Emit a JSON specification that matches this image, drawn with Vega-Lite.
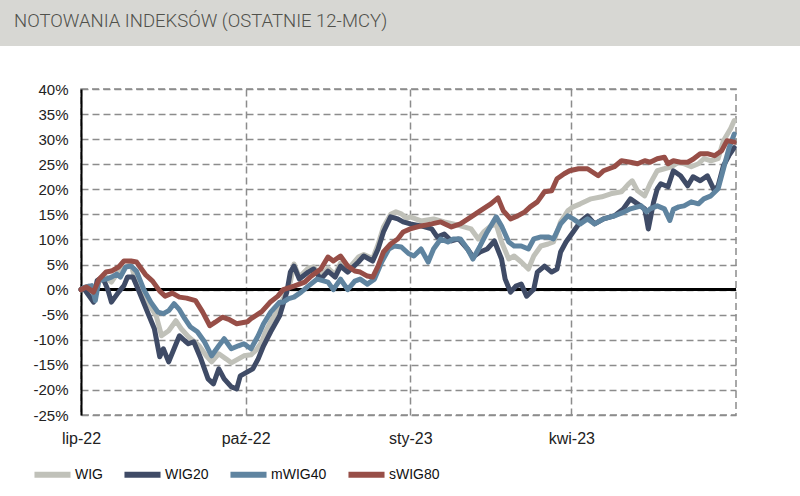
{
  "$schema": "https://vega.github.io/schema/vega-lite/v6.json",
  "padding": 0,
  "background": "white",
  "spacing": 35,
  "resolve": {"scale": {"color": "independent"}},
  "config": {
    "view": {"stroke": null},
    "axis": {"gridColor": "#8c8c8c", "gridDash": [7, 4], "gridWidth": 1.5, "ticks": false, "domain": false, "labelColor": "#222222", "labelFont": "Liberation Sans", "title": null}
  },
  "vconcat": [
    {
      "width": 800,
      "height": 46,
      "view": {"fill": "#d7d7d3", "stroke": null},
      "data": {"values": [{"t": "NOTOWANIA INDEKSÓW (OSTATNIE 12-MCY)"}]},
      "layer": [
        {"mark": {"type": "rect", "color": "#d7d7d3"}, "encoding": {}},
        {"mark": {"type": "text", "align": "left", "baseline": "alphabetic", "font": "Roboto", "fontSize": 18.5, "fontWeight": 300, "color": "#50514b"},
         "encoding": {"text": {"field": "t"}, "x": {"value": 14}, "y": {"value": 27}}}
      ]
    },
    {
      "spacing": 0,
      "resolve": {"scale": {"color": "independent"}},
      "hconcat": [
        {
          "width": 1,
          "height": 1,
          "data": {"values": [{"k": 1}]},
          "mark": {"type": "rect", "opacity": 0},
          "encoding": {}
        },
        {
          "width": 655,
          "height": 326,
          "view": {"stroke": "#8c8c8c", "strokeDash": [7, 4], "strokeWidth": 1.5},
          "data": {"values": [
            {"s":"WIG","d":"2022-07-01","v":0},{"s":"WIG","d":"2022-07-04","v":0.5},{"s":"WIG","d":"2022-07-05","v":0.7},{"s":"WIG","d":"2022-07-08","v":-1.5},{"s":"WIG","d":"2022-07-10","v":1.5},{"s":"WIG","d":"2022-07-15","v":2.5},{"s":"WIG","d":"2022-07-18","v":1.5},{"s":"WIG","d":"2022-07-22","v":3.7},{"s":"WIG","d":"2022-07-26","v":4.5},{"s":"WIG","d":"2022-07-29","v":5.0},{"s":"WIG","d":"2022-08-01","v":1.1},{"s":"WIG","d":"2022-08-06","v":-1.9},{"s":"WIG","d":"2022-08-12","v":-5.2},{"s":"WIG","d":"2022-08-15","v":-9.2},{"s":"WIG","d":"2022-08-19","v":-8.2},{"s":"WIG","d":"2022-08-23","v":-6.2},{"s":"WIG","d":"2022-08-26","v":-7.8},{"s":"WIG","d":"2022-08-30","v":-9.4},{"s":"WIG","d":"2022-09-05","v":-11.2},{"s":"WIG","d":"2022-09-09","v":-13.2},{"s":"WIG","d":"2022-09-12","v":-14.4},{"s":"WIG","d":"2022-09-16","v":-12.8},{"s":"WIG","d":"2022-09-20","v":-13.8},{"s":"WIG","d":"2022-09-23","v":-14.6},{"s":"WIG","d":"2022-09-27","v":-13.8},{"s":"WIG","d":"2022-09-30","v":-13.2},{"s":"WIG","d":"2022-10-04","v":-13.0},{"s":"WIG","d":"2022-10-07","v":-12.0},{"s":"WIG","d":"2022-10-10","v":-10.4},{"s":"WIG","d":"2022-10-12","v":-8.5},{"s":"WIG","d":"2022-10-15","v":-6.4},{"s":"WIG","d":"2022-10-19","v":-4.0},{"s":"WIG","d":"2022-10-22","v":-1.8},{"s":"WIG","d":"2022-10-26","v":1.5},{"s":"WIG","d":"2022-10-28","v":5.1},{"s":"WIG","d":"2022-10-31","v":2.5},{"s":"WIG","d":"2022-11-05","v":4.3},{"s":"WIG","d":"2022-11-08","v":4.5},{"s":"WIG","d":"2022-11-12","v":2.7},{"s":"WIG","d":"2022-11-16","v":4.3},{"s":"WIG","d":"2022-11-20","v":3.0},{"s":"WIG","d":"2022-11-23","v":5.3},{"s":"WIG","d":"2022-11-27","v":4.0},{"s":"WIG","d":"2022-12-03","v":6.5},{"s":"WIG","d":"2022-12-06","v":7.0},{"s":"WIG","d":"2022-12-11","v":6.2},{"s":"WIG","d":"2022-12-14","v":9.0},{"s":"WIG","d":"2022-12-17","v":12.5},{"s":"WIG","d":"2022-12-21","v":15.0},{"s":"WIG","d":"2022-12-24","v":15.5},{"s":"WIG","d":"2022-12-27","v":15.1},{"s":"WIG","d":"2022-12-30","v":14.2},{"s":"WIG","d":"2023-01-01","v":14.5},{"s":"WIG","d":"2023-01-07","v":13.7},{"s":"WIG","d":"2023-01-14","v":14.1},{"s":"WIG","d":"2023-01-20","v":13.5},{"s":"WIG","d":"2023-01-25","v":13.1},{"s":"WIG","d":"2023-01-31","v":12.5},{"s":"WIG","d":"2023-02-04","v":12.1},{"s":"WIG","d":"2023-02-08","v":10.1},{"s":"WIG","d":"2023-02-11","v":11.5},{"s":"WIG","d":"2023-02-15","v":12.7},{"s":"WIG","d":"2023-02-18","v":13.0},{"s":"WIG","d":"2023-02-21","v":9.5},{"s":"WIG","d":"2023-02-25","v":6.1},{"s":"WIG","d":"2023-02-28","v":6.7},{"s":"WIG","d":"2023-03-04","v":5.5},{"s":"WIG","d":"2023-03-08","v":4.1},{"s":"WIG","d":"2023-03-11","v":6.7},{"s":"WIG","d":"2023-03-15","v":8.7},{"s":"WIG","d":"2023-03-19","v":9.1},{"s":"WIG","d":"2023-03-22","v":9.5},{"s":"WIG","d":"2023-03-26","v":13.5},{"s":"WIG","d":"2023-03-30","v":15.7},{"s":"WIG","d":"2023-04-02","v":16.5},{"s":"WIG","d":"2023-04-06","v":17.1},{"s":"WIG","d":"2023-04-12","v":18.1},{"s":"WIG","d":"2023-04-18","v":18.5},{"s":"WIG","d":"2023-04-23","v":19.1},{"s":"WIG","d":"2023-04-29","v":19.5},{"s":"WIG","d":"2023-05-03","v":21.1},{"s":"WIG","d":"2023-05-05","v":21.7},{"s":"WIG","d":"2023-05-08","v":19.7},{"s":"WIG","d":"2023-05-12","v":18.7},{"s":"WIG","d":"2023-05-15","v":21.1},{"s":"WIG","d":"2023-05-19","v":23.7},{"s":"WIG","d":"2023-05-23","v":24.1},{"s":"WIG","d":"2023-05-27","v":24.5},{"s":"WIG","d":"2023-05-31","v":25.4},{"s":"WIG","d":"2023-06-03","v":25.1},{"s":"WIG","d":"2023-06-07","v":24.5},{"s":"WIG","d":"2023-06-11","v":25.1},{"s":"WIG","d":"2023-06-14","v":26.1},{"s":"WIG","d":"2023-06-18","v":25.7},{"s":"WIG","d":"2023-06-22","v":26.1},{"s":"WIG","d":"2023-06-25","v":29.7},{"s":"WIG","d":"2023-06-29","v":32.1},{"s":"WIG","d":"2023-07-01","v":33.7},
            {"s":"WIG20","d":"2022-07-01","v":0},{"s":"WIG20","d":"2022-07-03","v":0},{"s":"WIG20","d":"2022-07-05","v":-1.0},{"s":"WIG20","d":"2022-07-08","v":-2.5},{"s":"WIG20","d":"2022-07-10","v":1.8},{"s":"WIG20","d":"2022-07-13","v":2.5},{"s":"WIG20","d":"2022-07-16","v":0},{"s":"WIG20","d":"2022-07-18","v":-2.5},{"s":"WIG20","d":"2022-07-22","v":-0.5},{"s":"WIG20","d":"2022-07-25","v":0.8},{"s":"WIG20","d":"2022-07-27","v":2.5},{"s":"WIG20","d":"2022-07-30","v":2.5},{"s":"WIG20","d":"2022-08-02","v":0},{"s":"WIG20","d":"2022-08-06","v":-3.5},{"s":"WIG20","d":"2022-08-11","v":-7.8},{"s":"WIG20","d":"2022-08-14","v":-13.4},{"s":"WIG20","d":"2022-08-16","v":-11.8},{"s":"WIG20","d":"2022-08-19","v":-14.4},{"s":"WIG20","d":"2022-08-22","v":-11.8},{"s":"WIG20","d":"2022-08-25","v":-9.2},{"s":"WIG20","d":"2022-08-28","v":-10.2},{"s":"WIG20","d":"2022-08-30","v":-10.8},{"s":"WIG20","d":"2022-09-02","v":-10.4},{"s":"WIG20","d":"2022-09-06","v":-13.8},{"s":"WIG20","d":"2022-09-10","v":-17.8},{"s":"WIG20","d":"2022-09-13","v":-18.8},{"s":"WIG20","d":"2022-09-16","v":-15.8},{"s":"WIG20","d":"2022-09-19","v":-17.8},{"s":"WIG20","d":"2022-09-23","v":-19.4},{"s":"WIG20","d":"2022-09-26","v":-19.8},{"s":"WIG20","d":"2022-09-28","v":-17.2},{"s":"WIG20","d":"2022-10-02","v":-16.4},{"s":"WIG20","d":"2022-10-05","v":-15.8},{"s":"WIG20","d":"2022-10-08","v":-13.8},{"s":"WIG20","d":"2022-10-11","v":-11.2},{"s":"WIG20","d":"2022-10-15","v":-8.4},{"s":"WIG20","d":"2022-10-20","v":-5.2},{"s":"WIG20","d":"2022-10-24","v":-0.5},{"s":"WIG20","d":"2022-10-26","v":3.5},{"s":"WIG20","d":"2022-10-28","v":4.7},{"s":"WIG20","d":"2022-10-31","v":2.1},{"s":"WIG20","d":"2022-11-05","v":3.5},{"s":"WIG20","d":"2022-11-08","v":4.1},{"s":"WIG20","d":"2022-11-12","v":2.1},{"s":"WIG20","d":"2022-11-16","v":3.7},{"s":"WIG20","d":"2022-11-20","v":2.5},{"s":"WIG20","d":"2022-11-23","v":4.7},{"s":"WIG20","d":"2022-11-27","v":3.5},{"s":"WIG20","d":"2022-12-03","v":5.5},{"s":"WIG20","d":"2022-12-06","v":6.7},{"s":"WIG20","d":"2022-12-11","v":5.7},{"s":"WIG20","d":"2022-12-14","v":8.1},{"s":"WIG20","d":"2022-12-17","v":11.5},{"s":"WIG20","d":"2022-12-21","v":14.5},{"s":"WIG20","d":"2022-12-25","v":14.1},{"s":"WIG20","d":"2022-12-28","v":13.5},{"s":"WIG20","d":"2023-01-01","v":13.1},{"s":"WIG20","d":"2023-01-07","v":12.7},{"s":"WIG20","d":"2023-01-13","v":12.1},{"s":"WIG20","d":"2023-01-16","v":10.5},{"s":"WIG20","d":"2023-01-20","v":11.1},{"s":"WIG20","d":"2023-01-24","v":9.7},{"s":"WIG20","d":"2023-01-28","v":10.1},{"s":"WIG20","d":"2023-02-02","v":8.1},{"s":"WIG20","d":"2023-02-05","v":6.5},{"s":"WIG20","d":"2023-02-09","v":7.5},{"s":"WIG20","d":"2023-02-13","v":8.1},{"s":"WIG20","d":"2023-02-17","v":9.7},{"s":"WIG20","d":"2023-02-21","v":6.1},{"s":"WIG20","d":"2023-02-23","v":2.1},{"s":"WIG20","d":"2023-02-26","v":-0.5},{"s":"WIG20","d":"2023-03-01","v":0.7},{"s":"WIG20","d":"2023-03-04","v":1.1},{"s":"WIG20","d":"2023-03-07","v":-1.3},{"s":"WIG20","d":"2023-03-11","v":0.1},{"s":"WIG20","d":"2023-03-13","v":3.5},{"s":"WIG20","d":"2023-03-17","v":4.7},{"s":"WIG20","d":"2023-03-21","v":3.5},{"s":"WIG20","d":"2023-03-24","v":4.1},{"s":"WIG20","d":"2023-03-26","v":7.5},{"s":"WIG20","d":"2023-03-29","v":9.5},{"s":"WIG20","d":"2023-04-02","v":11.5},{"s":"WIG20","d":"2023-04-06","v":13.5},{"s":"WIG20","d":"2023-04-10","v":14.7},{"s":"WIG20","d":"2023-04-14","v":13.1},{"s":"WIG20","d":"2023-04-19","v":14.1},{"s":"WIG20","d":"2023-04-25","v":14.7},{"s":"WIG20","d":"2023-04-30","v":16.1},{"s":"WIG20","d":"2023-05-04","v":18.1},{"s":"WIG20","d":"2023-05-08","v":17.1},{"s":"WIG20","d":"2023-05-12","v":16.1},{"s":"WIG20","d":"2023-05-14","v":12.1},{"s":"WIG20","d":"2023-05-17","v":17.5},{"s":"WIG20","d":"2023-05-19","v":20.1},{"s":"WIG20","d":"2023-05-21","v":21.1},{"s":"WIG20","d":"2023-05-25","v":20.5},{"s":"WIG20","d":"2023-05-28","v":23.7},{"s":"WIG20","d":"2023-06-01","v":22.7},{"s":"WIG20","d":"2023-06-05","v":20.7},{"s":"WIG20","d":"2023-06-08","v":22.5},{"s":"WIG20","d":"2023-06-12","v":21.7},{"s":"WIG20","d":"2023-06-16","v":22.7},{"s":"WIG20","d":"2023-06-20","v":19.7},{"s":"WIG20","d":"2023-06-22","v":20.7},{"s":"WIG20","d":"2023-06-25","v":24.7},{"s":"WIG20","d":"2023-06-28","v":26.7},{"s":"WIG20","d":"2023-07-01","v":28.3},
            {"s":"mWIG40","d":"2022-07-01","v":0},{"s":"mWIG40","d":"2022-07-03","v":0.5},{"s":"mWIG40","d":"2022-07-07","v":0.8},{"s":"mWIG40","d":"2022-07-09","v":-2.2},{"s":"mWIG40","d":"2022-07-11","v":1.8},{"s":"mWIG40","d":"2022-07-15","v":2.1},{"s":"mWIG40","d":"2022-07-18","v":2.5},{"s":"mWIG40","d":"2022-07-21","v":3.1},{"s":"mWIG40","d":"2022-07-23","v":2.5},{"s":"mWIG40","d":"2022-07-26","v":4.5},{"s":"mWIG40","d":"2022-07-29","v":4.7},{"s":"mWIG40","d":"2022-08-01","v":3.7},{"s":"mWIG40","d":"2022-08-05","v":0.1},{"s":"mWIG40","d":"2022-08-09","v":-2.5},{"s":"mWIG40","d":"2022-08-13","v":-4.5},{"s":"mWIG40","d":"2022-08-16","v":-4.8},{"s":"mWIG40","d":"2022-08-19","v":-4.2},{"s":"mWIG40","d":"2022-08-22","v":-2.8},{"s":"mWIG40","d":"2022-08-25","v":-4.0},{"s":"mWIG40","d":"2022-08-28","v":-5.8},{"s":"mWIG40","d":"2022-08-31","v":-7.4},{"s":"mWIG40","d":"2022-09-04","v":-8.4},{"s":"mWIG40","d":"2022-09-08","v":-10.4},{"s":"mWIG40","d":"2022-09-12","v":-13.2},{"s":"mWIG40","d":"2022-09-16","v":-11.2},{"s":"mWIG40","d":"2022-09-19","v":-9.8},{"s":"mWIG40","d":"2022-09-23","v":-11.8},{"s":"mWIG40","d":"2022-09-27","v":-11.2},{"s":"mWIG40","d":"2022-09-30","v":-10.8},{"s":"mWIG40","d":"2022-10-04","v":-11.8},{"s":"mWIG40","d":"2022-10-08","v":-9.2},{"s":"mWIG40","d":"2022-10-11","v":-6.8},{"s":"mWIG40","d":"2022-10-15","v":-4.5},{"s":"mWIG40","d":"2022-10-20","v":-2.5},{"s":"mWIG40","d":"2022-10-22","v":-2.5},{"s":"mWIG40","d":"2022-10-25","v":-1.8},{"s":"mWIG40","d":"2022-10-28","v":-1.5},{"s":"mWIG40","d":"2022-11-01","v":-0.5},{"s":"mWIG40","d":"2022-11-05","v":0.7},{"s":"mWIG40","d":"2022-11-10","v":2.1},{"s":"mWIG40","d":"2022-11-16","v":1.5},{"s":"mWIG40","d":"2022-11-19","v":0},{"s":"mWIG40","d":"2022-11-23","v":2.1},{"s":"mWIG40","d":"2022-11-27","v":0},{"s":"mWIG40","d":"2022-12-01","v":1.7},{"s":"mWIG40","d":"2022-12-04","v":2.1},{"s":"mWIG40","d":"2022-12-08","v":1.1},{"s":"mWIG40","d":"2022-12-12","v":2.1},{"s":"mWIG40","d":"2022-12-16","v":5.5},{"s":"mWIG40","d":"2022-12-20","v":8.1},{"s":"mWIG40","d":"2022-12-23","v":8.7},{"s":"mWIG40","d":"2022-12-27","v":8.5},{"s":"mWIG40","d":"2022-12-31","v":7.2},{"s":"mWIG40","d":"2023-01-03","v":6.7},{"s":"mWIG40","d":"2023-01-07","v":8.1},{"s":"mWIG40","d":"2023-01-11","v":5.5},{"s":"mWIG40","d":"2023-01-14","v":8.1},{"s":"mWIG40","d":"2023-01-18","v":10.1},{"s":"mWIG40","d":"2023-01-22","v":9.5},{"s":"mWIG40","d":"2023-01-25","v":10.1},{"s":"mWIG40","d":"2023-01-29","v":10.1},{"s":"mWIG40","d":"2023-02-02","v":8.1},{"s":"mWIG40","d":"2023-02-05","v":6.1},{"s":"mWIG40","d":"2023-02-09","v":8.7},{"s":"mWIG40","d":"2023-02-13","v":11.5},{"s":"mWIG40","d":"2023-02-18","v":14.5},{"s":"mWIG40","d":"2023-02-21","v":12.7},{"s":"mWIG40","d":"2023-02-25","v":9.5},{"s":"mWIG40","d":"2023-02-28","v":8.7},{"s":"mWIG40","d":"2023-03-04","v":8.7},{"s":"mWIG40","d":"2023-03-08","v":8.1},{"s":"mWIG40","d":"2023-03-11","v":10.1},{"s":"mWIG40","d":"2023-03-15","v":10.5},{"s":"mWIG40","d":"2023-03-19","v":10.5},{"s":"mWIG40","d":"2023-03-22","v":10.1},{"s":"mWIG40","d":"2023-03-26","v":13.1},{"s":"mWIG40","d":"2023-03-30","v":14.7},{"s":"mWIG40","d":"2023-04-02","v":14.1},{"s":"mWIG40","d":"2023-04-06","v":13.1},{"s":"mWIG40","d":"2023-04-10","v":14.1},{"s":"mWIG40","d":"2023-04-14","v":13.1},{"s":"mWIG40","d":"2023-04-19","v":14.1},{"s":"mWIG40","d":"2023-04-25","v":14.7},{"s":"mWIG40","d":"2023-04-30","v":15.4},{"s":"mWIG40","d":"2023-05-04","v":16.1},{"s":"mWIG40","d":"2023-05-10","v":16.7},{"s":"mWIG40","d":"2023-05-13","v":15.5},{"s":"mWIG40","d":"2023-05-15","v":16.1},{"s":"mWIG40","d":"2023-05-19","v":16.7},{"s":"mWIG40","d":"2023-05-23","v":16.1},{"s":"mWIG40","d":"2023-05-26","v":13.8},{"s":"mWIG40","d":"2023-05-28","v":16.0},{"s":"mWIG40","d":"2023-05-31","v":16.5},{"s":"mWIG40","d":"2023-06-03","v":16.7},{"s":"mWIG40","d":"2023-06-07","v":17.5},{"s":"mWIG40","d":"2023-06-11","v":17.1},{"s":"mWIG40","d":"2023-06-14","v":18.1},{"s":"mWIG40","d":"2023-06-18","v":18.7},{"s":"mWIG40","d":"2023-06-22","v":20.1},{"s":"mWIG40","d":"2023-06-25","v":24.1},{"s":"mWIG40","d":"2023-06-28","v":28.1},{"s":"mWIG40","d":"2023-07-01","v":31.0},
            {"s":"sWIG80","d":"2022-07-01","v":0},{"s":"sWIG80","d":"2022-07-04","v":0.5},{"s":"sWIG80","d":"2022-07-08","v":-0.5},{"s":"sWIG80","d":"2022-07-11","v":2.0},{"s":"sWIG80","d":"2022-07-15","v":3.5},{"s":"sWIG80","d":"2022-07-18","v":3.7},{"s":"sWIG80","d":"2022-07-22","v":4.5},{"s":"sWIG80","d":"2022-07-25","v":5.7},{"s":"sWIG80","d":"2022-07-29","v":5.7},{"s":"sWIG80","d":"2022-08-01","v":5.5},{"s":"sWIG80","d":"2022-08-04","v":4.0},{"s":"sWIG80","d":"2022-08-06","v":3.0},{"s":"sWIG80","d":"2022-08-10","v":1.7},{"s":"sWIG80","d":"2022-08-14","v":-0.3},{"s":"sWIG80","d":"2022-08-17","v":-1.3},{"s":"sWIG80","d":"2022-08-21","v":-0.7},{"s":"sWIG80","d":"2022-08-25","v":-1.5},{"s":"sWIG80","d":"2022-08-29","v":-1.7},{"s":"sWIG80","d":"2022-09-03","v":-2.2},{"s":"sWIG80","d":"2022-09-07","v":-4.5},{"s":"sWIG80","d":"2022-09-11","v":-7.2},{"s":"sWIG80","d":"2022-09-14","v":-6.5},{"s":"sWIG80","d":"2022-09-18","v":-5.5},{"s":"sWIG80","d":"2022-09-22","v":-6.0},{"s":"sWIG80","d":"2022-09-26","v":-6.8},{"s":"sWIG80","d":"2022-09-29","v":-6.6},{"s":"sWIG80","d":"2022-10-02","v":-6.4},{"s":"sWIG80","d":"2022-10-04","v":-5.8},{"s":"sWIG80","d":"2022-10-10","v":-4.4},{"s":"sWIG80","d":"2022-10-15","v":-2.4},{"s":"sWIG80","d":"2022-10-19","v":-1.3},{"s":"sWIG80","d":"2022-10-22","v":0},{"s":"sWIG80","d":"2022-10-28","v":0.7},{"s":"sWIG80","d":"2022-11-03","v":1.5},{"s":"sWIG80","d":"2022-11-06","v":2.5},{"s":"sWIG80","d":"2022-11-12","v":4.1},{"s":"sWIG80","d":"2022-11-16","v":6.5},{"s":"sWIG80","d":"2022-11-19","v":5.7},{"s":"sWIG80","d":"2022-11-23","v":6.7},{"s":"sWIG80","d":"2022-11-27","v":4.7},{"s":"sWIG80","d":"2022-12-01","v":3.7},{"s":"sWIG80","d":"2022-12-04","v":3.5},{"s":"sWIG80","d":"2022-12-08","v":2.7},{"s":"sWIG80","d":"2022-12-11","v":2.5},{"s":"sWIG80","d":"2022-12-14","v":4.7},{"s":"sWIG80","d":"2022-12-17","v":7.5},{"s":"sWIG80","d":"2022-12-21","v":9.1},{"s":"sWIG80","d":"2022-12-25","v":10.1},{"s":"sWIG80","d":"2022-12-28","v":11.5},{"s":"sWIG80","d":"2023-01-01","v":12.1},{"s":"sWIG80","d":"2023-01-07","v":12.7},{"s":"sWIG80","d":"2023-01-13","v":13.1},{"s":"sWIG80","d":"2023-01-18","v":13.5},{"s":"sWIG80","d":"2023-01-24","v":12.5},{"s":"sWIG80","d":"2023-01-29","v":13.1},{"s":"sWIG80","d":"2023-02-04","v":14.5},{"s":"sWIG80","d":"2023-02-09","v":15.7},{"s":"sWIG80","d":"2023-02-15","v":17.1},{"s":"sWIG80","d":"2023-02-19","v":18.3},{"s":"sWIG80","d":"2023-02-22","v":15.7},{"s":"sWIG80","d":"2023-02-26","v":14.1},{"s":"sWIG80","d":"2023-03-02","v":14.7},{"s":"sWIG80","d":"2023-03-06","v":15.5},{"s":"sWIG80","d":"2023-03-09","v":16.5},{"s":"sWIG80","d":"2023-03-13","v":17.5},{"s":"sWIG80","d":"2023-03-17","v":19.5},{"s":"sWIG80","d":"2023-03-21","v":19.7},{"s":"sWIG80","d":"2023-03-24","v":22.1},{"s":"sWIG80","d":"2023-03-28","v":23.1},{"s":"sWIG80","d":"2023-03-31","v":23.7},{"s":"sWIG80","d":"2023-04-05","v":24.1},{"s":"sWIG80","d":"2023-04-10","v":24.1},{"s":"sWIG80","d":"2023-04-16","v":22.7},{"s":"sWIG80","d":"2023-04-19","v":23.7},{"s":"sWIG80","d":"2023-04-25","v":24.5},{"s":"sWIG80","d":"2023-04-29","v":25.7},{"s":"sWIG80","d":"2023-05-04","v":25.4},{"s":"sWIG80","d":"2023-05-08","v":25.1},{"s":"sWIG80","d":"2023-05-12","v":25.7},{"s":"sWIG80","d":"2023-05-15","v":25.4},{"s":"sWIG80","d":"2023-05-19","v":26.1},{"s":"sWIG80","d":"2023-05-23","v":26.4},{"s":"sWIG80","d":"2023-05-25","v":25.1},{"s":"sWIG80","d":"2023-05-28","v":25.7},{"s":"sWIG80","d":"2023-06-01","v":25.4},{"s":"sWIG80","d":"2023-06-05","v":25.4},{"s":"sWIG80","d":"2023-06-08","v":26.0},{"s":"sWIG80","d":"2023-06-12","v":27.1},{"s":"sWIG80","d":"2023-06-16","v":27.1},{"s":"sWIG80","d":"2023-06-20","v":26.7},{"s":"sWIG80","d":"2023-06-24","v":27.7},{"s":"sWIG80","d":"2023-06-27","v":29.7},{"s":"sWIG80","d":"2023-07-01","v":29.4}
          ]},
          "layer": [
            {
              "mark": {"type": "rule", "color": "#000000", "strokeWidth": 2},
              "encoding": {
                "y": {"datum": 0, "type": "quantitative", "scale": {"domain": [-25, 40], "nice": false, "zero": false},
                      "axis": {"values": [-25,-20,-15,-10,-5,0,5,10,15,20,25,30,35,40], "labelExpr": "datum.value + '%'", "grid": true, "domain": true, "domainColor": "#000000", "domainWidth": 2, "labelPadding": 13, "labelFontSize": 15, "minExtent": 79, "title": null}}
              }
            },
            {
              "mark": {"type": "line", "strokeWidth": 5, "strokeJoin": "round", "strokeCap": "round"},
              "encoding": {
                "x": {"field": "d", "type": "temporal",
                      "scale": {"domain": [{"year": 2022, "month": 7, "date": 1}, {"year": 2023, "month": 7, "date": 2}]},
                      "axis": {"values": [{"year": 2022, "month": 7, "date": 1}, {"year": 2022, "month": 10, "date": 1}, {"year": 2023, "month": 1, "date": 1}, {"year": 2023, "month": 4, "date": 1}],
                               "labelExpr": "['sty','lut','mar','kwi','maj','cze','lip','sie','wrz','paź','lis','gru'][month(datum.value)] + '-' + timeFormat(datum.value, '%y')",
                               "grid": true, "labelPadding": 15, "labelFontSize": 16, "labelFlush": false, "labelOverlap": false, "title": null}},
                "y": {"field": "v", "type": "quantitative", "scale": {"domain": [-25, 40], "nice": false, "zero": false},
                      "axis": {"values": [-25,-20,-15,-10,-5,0,5,10,15,20,25,30,35,40], "labelExpr": "datum.value + '%'", "grid": true, "domain": true, "domainColor": "#000000", "domainWidth": 2, "labelPadding": 13, "labelFontSize": 15, "minExtent": 79, "title": null}},
                "color": {"field": "s", "type": "nominal",
                          "scale": {"domain": ["WIG", "WIG20", "mWIG40", "sWIG80"], "range": ["#c0c1b9", "#3f4b66", "#5f84a0", "#974e47"]},
                          "legend": {"orient": "none", "legendX": -50, "legendY": 364, "direction": "horizontal", "title": null, "symbolType": "stroke", "symbolSize": 1300, "symbolStrokeWidth": 6, "labelFontSize": 14, "labelFont": "Liberation Sans", "labelColor": "#111111", "labelOffset": 1, "columnPadding": 9}}
              }
            }
          ]
        }
      ]
    }
  ]
}
